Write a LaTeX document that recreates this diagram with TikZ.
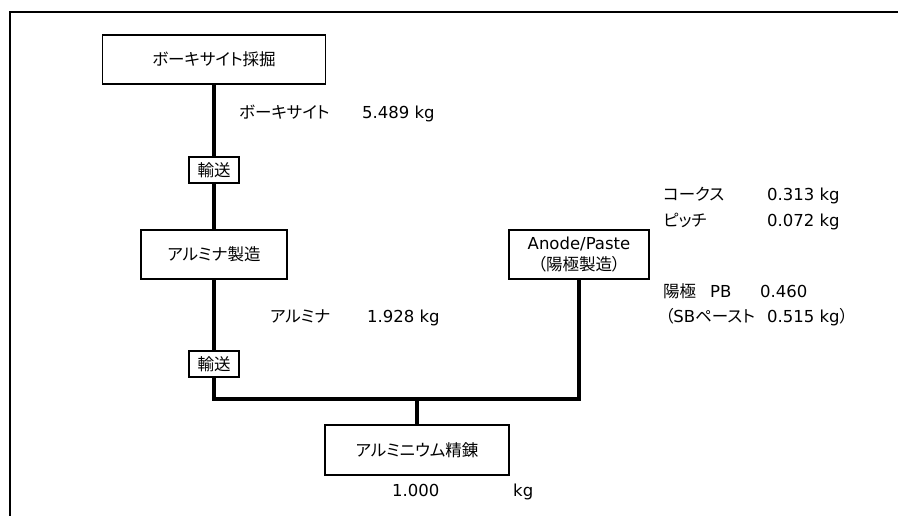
\documentclass[tikz,border=0pt]{standalone}
\usepackage{fontspec}
\setmainfont{DejaVu Sans}
\newfontfamily\jp[RawFeature=+palt]{Noto Sans CJK JP}
\newcommand\J[1]{{\jp\fontsize{16.5}{20}\selectfont #1}}
\begin{document}
\begin{tikzpicture}[x=1pt,y=-1pt,
  every node/.style={font=\fontsize{16.5}{24}\selectfont},
  procbox/.style={draw,line width=1.6pt,minimum width=#1,minimum height=49pt,inner sep=0pt,align=center},
  transbox/.style={draw,line width=1.3pt,fill=white,minimum width=50pt,minimum height=26pt,inner sep=0pt},
  flow/.style={line width=3.6pt,line join=miter},
  lbl/.style={anchor=base west,inner sep=0pt},
  frame/.style={line width=1.6pt}]
\useasboundingbox (0,0) rectangle (898,516);
\draw[frame] (10,516) -- (10,12) -- (898,12);

\node[procbox=223pt] (b1) at (214,59.5) {\J{ボーキサイト採掘}};
\node[transbox] (t1) at (214,170) {\J{輸送}};
\node[procbox=146pt] (b2) at (214,254.5) {\J{アルミナ製造}};
\node[transbox] (t2) at (214,364) {\J{輸送}};
\node[procbox=140pt] (an) at (579,254.5) {Anode/Paste\\[-3pt]\J{（陽極製造）}};
\node[procbox=184pt,minimum height=50pt] (ref) at (417,450) {\J{アルミニウム精錬}};
\coordinate (jc) at (417,399);

\draw[flow] (b1.south) -- (t1.north);
\draw[flow] (t1.south) -- (b2.north);
\draw[flow] (b2.south) -- (t2.north);
\draw[flow] (t2.south) |- (jc) -| (an.south);
\draw[flow] (jc) -- (ref.north);

\node[lbl] (l1) at (239,119) {\J{ボーキサイト}};
\node[lbl] (v1) at (362,119) {5.489 kg};
\node[lbl] (l2) at (270,323) {\J{アルミナ}};
\node[lbl] (v2) at (367,323) {1.928 kg};
\node[lbl] (l3) at (663,201) {\J{コークス}};
\node[lbl] (v3) at (767,201) {0.313 kg};
\node[lbl] (l4) at (663,226) {\J{ピッチ}};
\node[lbl] (v4) at (767,226) {0.072 kg};
\node[lbl] (l5) at (663,298) {\J{陽極}};
\node[lbl] (l5b) at (710,298) {PB};
\node[lbl] (v5) at (760,298) {0.460};
\node[lbl] (l6) at (665,323) {\J{（}SB\J{ペースト}};
\node[lbl] (v6) at (767,323) {0.515 kg\J{）}};
\node[lbl] (v7) at (392,496) {1.000};
\node[lbl] (v7b) at (513,496) {kg};
\end{tikzpicture}
\end{document}
